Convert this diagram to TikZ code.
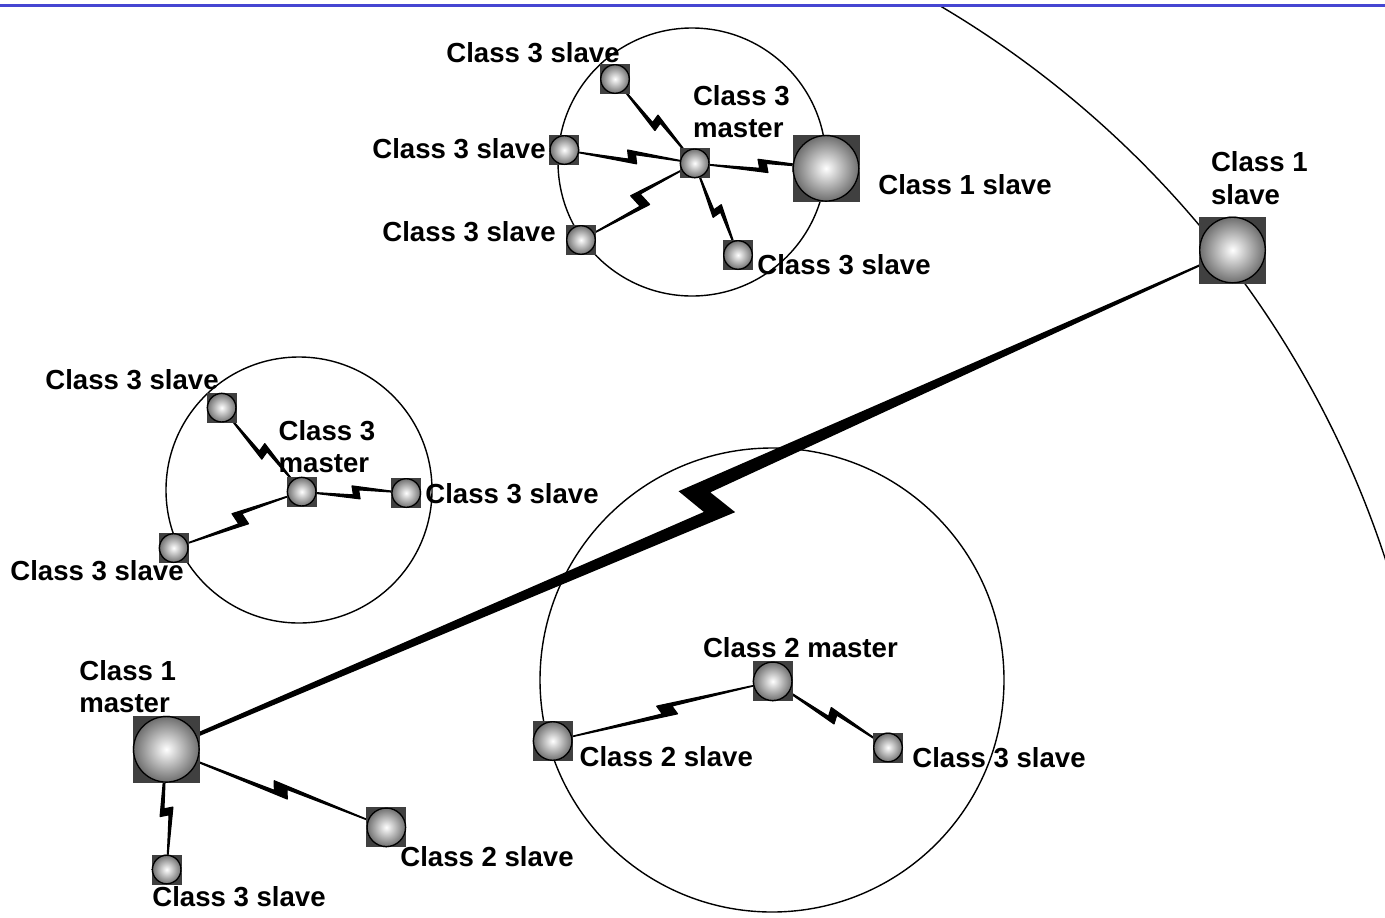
\documentclass[tikz,border=0pt]{standalone}
\usepackage{fontspec}
\setmainfont{Liberation Sans}
\usepackage{tikz}
\usetikzlibrary{calc,backgrounds}
\definecolor{devgray}{RGB}{64,64,64}
\definecolor{rulebl}{RGB}{70,70,210}
\tikzset{dev/.style={rectangle, fill=devgray, inner sep=0pt, minimum size=#1,
  path picture={\shade[inner color=white, outer color=black!58] (path picture bounding box.center) circle (#1/2);
    \draw[line width=0.8pt] (path picture bounding box.center) circle (#1/2-0.4pt);}}}
\tikzstyle{smalldev}=[dev=0.6cm]
\tikzstyle{middev}=[dev=0.8cm]
\tikzstyle{bigdev}=[dev=1.34cm]
\tikzstyle{link}=[line width=0.6pt, line join=bevel]
\tikzstyle{zone}=[line width=0.8pt]
\tikzstyle{lab}=[inner sep=0pt, anchor=base west, font=\bfseries\fontsize{15.7}{18.5}\selectfont]
\tikzstyle{lab2}=[lab, anchor=north west, align=left]
% radio link: two bands joined by a zigzag in the middle
\newcommand{\bolt}[3][0.13cm]{\filldraw[link] (#2.center)
  -- ($(#2)!0.56!(#3)!#1!-90:(#3)$) -- ($(#2)!0.545!(#3)!#1-0.08cm!90:(#3)$)
  -- (#3.center)
  -- ($(#2)!0.48!(#3)!#1!90:(#3)$) -- ($(#2)!0.495!(#3)!#1-0.08cm!-90:(#3)$) -- cycle;}

\begin{document}
\begin{tikzpicture}[x=0.02cm,y=-0.02cm]
\useasboundingbox (0,0) rectangle (1385,917);
\draw[line width=1.2pt, rulebl] (0,5.5) -- (1385,5.5);

% ranges
\draw[zone] (692,162) circle (134);
\draw[zone] (299,490) circle (133);
\draw[zone] (772,680) circle (232);
\begin{scope}
\clip (0,7) rectangle (1385,917);
\draw[zone] (430,872) circle (1005);
\end{scope}

% devices
\node[bigdev] (m1) at (166.3,749.3) {};
\node[bigdev] (s1) at (1232.5,250) {};
\node[middev] (ma) at (386.3,827.3) {};
\node[smalldev] (mb) at (166.7,869.5) {};

\node[smalldev] (tm) at (694.7,163.3) {};
\node[smalldev] (ta) at (615,79) {};
\node[smalldev] (tb) at (564.3,150) {};
\node[smalldev] (tc) at (581,240) {};
\node[smalldev] (td) at (738,255) {};
\node[bigdev] (ts) at (826,168.3) {};

\node[smalldev] (lm) at (301.7,491.7) {};
\node[smalldev] (la) at (221.7,407.7) {};
\node[smalldev] (lb) at (406.2,493) {};
\node[smalldev] (lc) at (173.7,548) {};

\node[middev] (bm) at (772.7,681.3) {};
\node[middev] (ba) at (552.7,741) {};
\node[smalldev] (bb) at (888,747.5) {};

\begin{scope}[on background layer]
% links
\bolt{ta}{tm}
\bolt{tb}{tm}
\bolt[0.18cm]{tc}{tm}
\bolt{tm}{ts}
\bolt{tm}{td}
\bolt{la}{lm}
\bolt{lm}{lb}
\bolt[0.16cm]{lc}{lm}
\bolt{ba}{bm}
\bolt{bm}{bb}
\bolt{m1}{ma}
\bolt{m1}{mb}

% long link class 1
\coordinate (a1) at ($(m1)!0.03!(s1)!0.04cm!-90:(s1)$);
\coordinate (r1) at ($(m1)!0.523!(s1)!0.53cm!-90:(s1)$);
\coordinate (r2) at ($(m1)!0.511!(s1)!0.04cm!90:(s1)$);
\coordinate (b1) at ($(m1)!0.972!(s1)!0.02cm!-90:(s1)$);
\coordinate (b2) at ($(m1)!0.972!(s1)!0.02cm!90:(s1)$);
\coordinate (l1) at ($(m1)!0.487!(s1)!0.33cm!90:(s1)$);
\coordinate (l2) at ($(m1)!0.499!(s1)!0.26cm!-90:(s1)$);
\coordinate (a2) at ($(m1)!0.03!(s1)!0.04cm!90:(s1)$);
\fill (a1) -- (r1) -- (r2) -- (b1) -- (b2) -- (l1) -- (l2) -- (a2) -- cycle;
\end{scope}

% labels
\node[lab] (t1) at (446,62) {Class 3 slave};
\node[lab] (t2) at (372,158) {Class 3 slave};
\node[lab2] (t3) at (692.7,85) {Class 3\\master};
\node[lab] (t4) at (878,194) {Class 1 slave};
\node[lab] (t5) at (382,241) {Class 3 slave};
\node[lab] (t6) at (757,274) {Class 3 slave};
\node[lab2] (t7) at (1210.7,151.5) {Class 1\\slave};
\node[lab] (t8) at (45,389) {Class 3 slave};
\node[lab2] (t9) at (278.3,420) {Class 3\\master};
\node[lab] (t10) at (425,503) {Class 3 slave};
\node[lab] (t11) at (10,580) {Class 3 slave};
\node[lab2] (t12) at (79,660) {Class 1\\master};
\node[lab] (t13) at (702.7,657) {Class 2 master};
\node[lab] (t14) at (579.3,766.7) {Class 2 slave};
\node[lab] (t15) at (912,767) {Class 3 slave};
\node[lab] (t16) at (400,866) {Class 2 slave};
\node[lab] (t17) at (152,906) {Class 3 slave};
\end{tikzpicture}
\end{document}
